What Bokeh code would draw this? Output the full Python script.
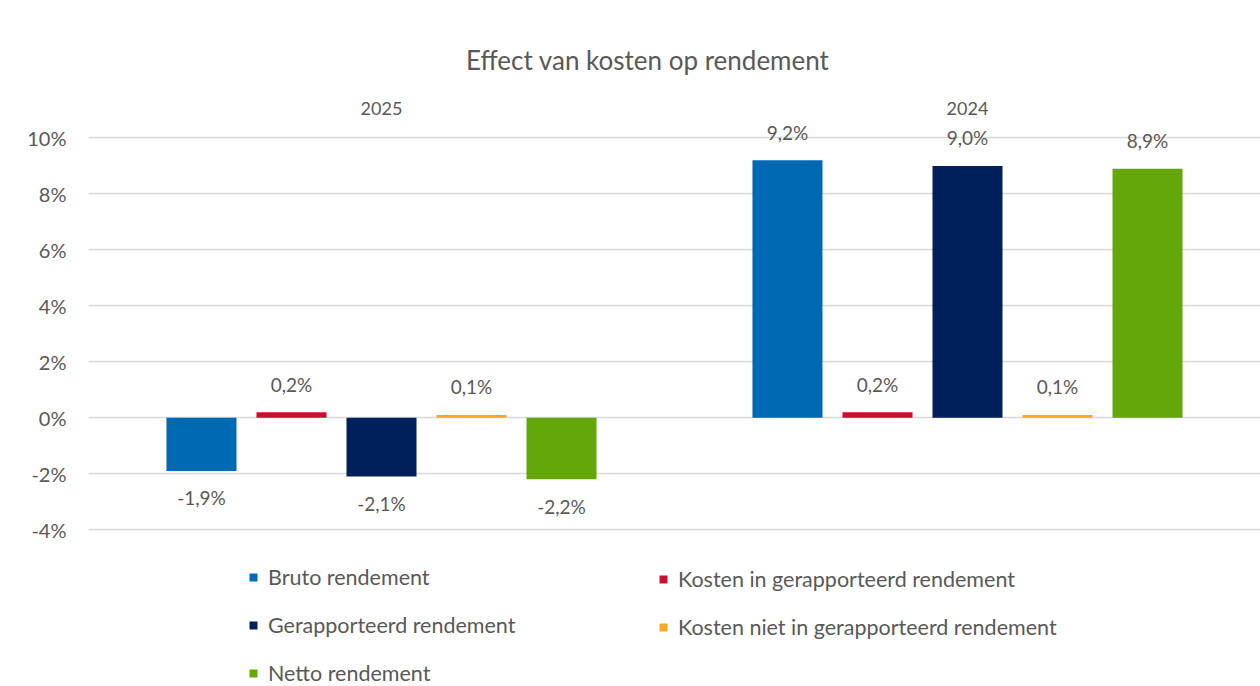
from bokeh.plotting import figure
from bokeh.models import (ColumnDataSource, FactorRange, FixedTicker, PrintfTickFormatter,
                          LabelSet, Legend, LegendItem)
from bokeh.core.properties import value
from bokeh.transform import dodge
from bokeh.embed import file_html
from bokeh.resources import INLINE

years = ["2025", "2024"]
series = ["Bruto rendement", "Kosten in gerapporteerd rendement", "Gerapporteerd rendement",
          "Kosten niet in gerapporteerd rendement", "Netto rendement"]
bruto = [-1.9, 9.2]
kosten_in = [0.2, 0.2]
gerapporteerd = [-2.1, 9.0]
kosten_niet = [0.1, 0.1]
netto = [-2.2, 8.9]
y_ticks = [-4, -2, 0, 2, 4, 6, 8, 10]

values = [bruto, kosten_in, gerapporteerd, kosten_niet, netto]
colors = ["#0069B4", "#C8102E", "#00205B", "#F7A823", "#64A70B"]

FONT = "Lato"
GREY = "#595959"

# frame extends to the bottom of the canvas so the legend can live inside it
p = figure(x_range=FactorRange(*years), y_range=(-9.6, 10.8), width=1260, height=686,
           output_backend="svg", toolbar_location=None, x_axis_location="above",
           title="Effect van kosten op rendement",
           min_border_left=88, min_border_right=0, min_border_top=115, min_border_bottom=0)
p.x_range.range_padding = 0

bar_w = 0.1195
step = 0.1536
renderers = []
for i, (name, vals, col) in enumerate(zip(series, values, colors)):
    off = (i - 2) * step
    labels = [(f"{v:.1f}".replace(".", ",") + "%") for v in vals]
    yoff = [28 if v >= 0 else -27 for v in vals]
    src = ColumnDataSource(dict(year=years, val=vals, label=labels, yoff=yoff))
    r = p.vbar(x=dodge("year", off, range=p.x_range), top="val", bottom=0, width=bar_w,
               source=src, fill_color=col, line_color=None)
    renderers.append(r)
    ls = LabelSet(x=dodge("year", off, range=p.x_range), y="val", text="label", y_offset="yoff",
                  source=src, text_align="center", text_baseline="middle",
                  text_font_size="19px", text_color=GREY, text_font=value(FONT))
    p.add_layout(ls)

# axes
p.yaxis.ticker = FixedTicker(ticks=y_ticks)
p.yaxis.formatter = PrintfTickFormatter(format="%d%%")
for ax in (p.xaxis[0], p.yaxis[0]):
    ax.axis_line_color = None
    ax.major_tick_line_color = None
    ax.minor_tick_line_color = None
    ax.major_label_text_color = GREY
    ax.major_label_text_font = FONT
p.yaxis.major_label_text_font_size = "20px"
p.xaxis.major_label_text_font_size = "18px"
p.yaxis.major_label_standoff = 16
p.xaxis.major_label_standoff = -5

p.xgrid.grid_line_color = None
p.ygrid.ticker = FixedTicker(ticks=y_ticks)
p.ygrid.grid_line_color = "#D9D9D9"
p.ygrid.grid_line_width = 1.5
p.outline_line_color = None

p.title.text_font = FONT
p.title.text_font_size = "26px"
p.title.text_font_style = "normal"
p.title.text_color = GREY
p.title.align = "right"
p.title.offset = 431
p.title.standoff = 46


def make_legend(idx, loc):
    items = [LegendItem(label=series[i], renderers=[renderers[i]]) for i in idx]
    lg = Legend(items=items, location=loc, orientation="vertical", padding=0, margin=0,
                spacing=22, label_height=24, glyph_width=10, glyph_height=10,
                label_standoff=10, border_line_color=None, background_fill_alpha=0,
                label_text_font=FONT, label_text_font_size="21.5px", label_text_color=GREY)
    p.add_layout(lg, "center")


make_legend([0, 2, 4], (160, 0))
make_legend([1, 3], (570, 46))

open("out.html", "w").write(file_html(p, INLINE))
